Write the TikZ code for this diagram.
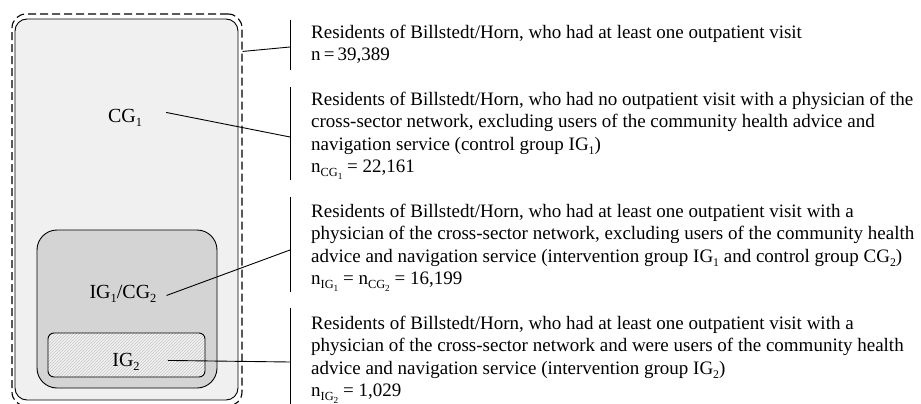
\documentclass[tikz,border=0pt]{standalone}
\usepackage{fontspec}
\setmainfont{Liberation Serif}
\usepackage{tikz}
\usetikzlibrary{positioning, patterns}
\tikzset{
    allbox/.style={rectangle, draw, dash pattern=on 8pt off 4pt, line width=1.1pt, rounded corners=14pt, minimum width=230pt, minimum height=392pt},
    cgbox/.style={rectangle, draw, fill=gray!12, line width=0.9pt, rounded corners=12pt, minimum width=223pt, minimum height=381pt},
    igcgbox/.style={rectangle, draw, fill=gray!34, line width=0.9pt, rounded corners=20pt, minimum width=180pt, minimum height=158pt},
    igbox/.style={rectangle, draw, preaction={fill=gray!10}, pattern=north east lines, pattern color=gray!45, line width=0.9pt, rounded corners=6pt, minimum width=157pt, minimum height=44pt},
    grouplabel/.style={anchor=base, inner sep=0pt, font=\fontsize{20}{24}\selectfont},
    desc/.style={anchor=north west, align=left, inner sep=0pt, font=\fontsize{19}{22.3}\selectfont},
    link/.style={line width=0.9pt},
    bracket/.style={line width=0.9pt}
}
\newcommand{\grp}[2]{#1\raisebox{-0.45ex}{\scalebox{0.62}{#2}}}
\newcommand{\nsub}[2]{n\raisebox{-0.45ex}{\scalebox{0.65}{#1\raisebox{-0.5ex}{\scalebox{0.75}{#2}}}}}

\begin{document}
\begin{tikzpicture}[x=1pt, y=-1pt]
            \useasboundingbox (0,0) rectangle (921,404);
            % nested groups
            \node (all) [allbox] at (127,210) {};
            \node (cg) [cgbox] at (126.5,209.5) {};
            \node (igcg) [igcgbox] at (127,309) {};
            \node (ig) [igbox] at (126.5,355) {};

            \node (lblCG) [grouplabel] at (125,122) {\grp{CG}{1}};
            \node (lblIGCG) [grouplabel] at (123,298) {\grp{IG}{1}/\grp{CG}{2}};
            \node (lblIG) [grouplabel] at (126,366) {\grp{IG}{2}};

            % brackets on the right
            \draw[bracket] (290,20) -- (290,70);
            \draw[bracket] (290,87) -- (290,180);
            \draw[bracket] (290,197) -- (290,292);
            \draw[bracket] (290,308) -- (290,410);
            \coordinate (b1) at (290,47);
            \coordinate (b2) at (290,137);
            \coordinate (b3) at (290,250);
            \coordinate (b4) at (290,362);

            \node (dAll) [desc] at (311,25) {Residents of Billstedt/Horn, who had at least one outpatient visit\\
                n\,=\,39,389};
            \node (dCG) [desc] at (311,92) {Residents of Billstedt/Horn, who had no outpatient visit with a physician of the\\
                cross-sector network, excluding users of the community health advice and\\
                navigation service (control group \grp{IG}{1})\\
                \nsub{CG}{1} = 22,161};
            \node (dIGCG) [desc] at (311,204) {Residents of Billstedt/Horn, who had at least one outpatient visit with a\\
                physician of the cross-sector network, excluding users of the community health\\
                advice and navigation service (intervention group \grp{IG}{1} and control group \grp{CG}{2})\\
                \nsub{IG}{1} = \nsub{CG}{2} = 16,199};
            \node (dIG) [desc] at (311,316) {Residents of Billstedt/Horn, who had at least one outpatient visit with a\\
                physician of the cross-sector network and were users of the community health\\
                advice and navigation service (intervention group \grp{IG}{2})\\
                \nsub{IG}{2} = 1,029};

            % connectors
            \draw[link] ([yshift=-38pt]all.north east) -- (b1);
            \draw[link] ([shift={(24pt,5pt)}]lblCG.east) -- (b2);
            \draw[link] ([shift={(10pt,-2pt)}]lblIGCG.east) -- (b3);
            \draw[link] ([shift={(28pt,1pt)}]lblIG.east) -- (b4);
        \end{tikzpicture}
\end{document}
